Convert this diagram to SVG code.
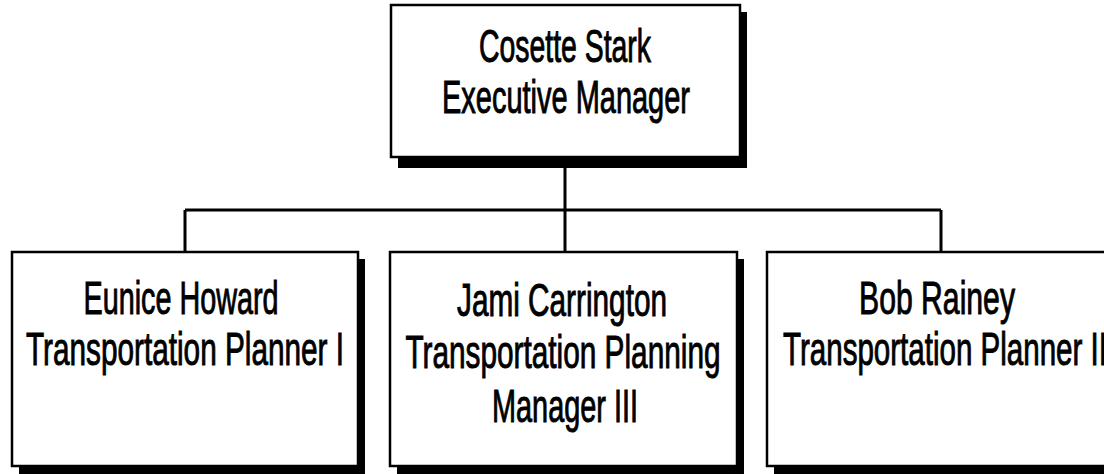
<svg xmlns="http://www.w3.org/2000/svg" width="1104" height="474" viewBox="0 0 1104 474">
<style>
.shadow{fill:#000;}
.box{fill:#fff;stroke:#000;stroke-width:2.5;}
.conn{fill:none;stroke:#000;stroke-width:3;}
.t{font-family:"Liberation Sans Narrow","Liberation Sans",Arial,sans-serif;font-size:47px;fill:#000;text-anchor:middle;stroke:#000;stroke-width:1;}
</style>
<rect width="1104" height="474" fill="#fff"/>
<g id="connectors">
<path class="conn" d="M565,158 V252"/>
<path class="conn" d="M185,210 H941"/>
<path class="conn" d="M185,210 V252"/>
<path class="conn" d="M941,210 V252"/>
</g>
<g id="node-cosette">
<rect class="shadow" x="398" y="12" width="349" height="156"/>
<rect class="box" x="391" y="5" width="349" height="152"/>
<text class="t" x="565" y="62" textLength="172" lengthAdjust="spacingAndGlyphs">Cosette Stark</text>
<text class="t" x="566" y="113" textLength="248" lengthAdjust="spacingAndGlyphs">Executive Manager</text>
</g>
<g id="node-eunice">
<rect class="shadow" x="19" y="259" width="346" height="215"/>
<rect class="box" x="12" y="252" width="346" height="214"/>
<text class="t" x="181" y="314" textLength="195" lengthAdjust="spacingAndGlyphs">Eunice Howard</text>
<text class="t" x="185" y="365" textLength="318" lengthAdjust="spacingAndGlyphs">Transportation Planner I</text>
</g>
<g id="node-jami">
<rect class="shadow" x="397" y="259" width="347" height="215"/>
<rect class="box" x="390" y="252" width="347" height="214"/>
<text class="t" x="562" y="316" textLength="210" lengthAdjust="spacingAndGlyphs">Jami Carrington</text>
<text class="t" x="563" y="368" textLength="315" lengthAdjust="spacingAndGlyphs">Transportation Planning</text>
<text class="t" x="565" y="422" textLength="146" lengthAdjust="spacingAndGlyphs">Manager III</text>
</g>
<g id="node-bob">
<rect class="shadow" x="774" y="259" width="347" height="215"/>
<rect class="box" x="767" y="252" width="347" height="214"/>
<text class="t" x="937" y="314" textLength="156" lengthAdjust="spacingAndGlyphs">Bob Rainey</text>
<text class="t" x="945" y="365" textLength="324" lengthAdjust="spacingAndGlyphs">Transportation Planner II</text>
</g>
</svg>
